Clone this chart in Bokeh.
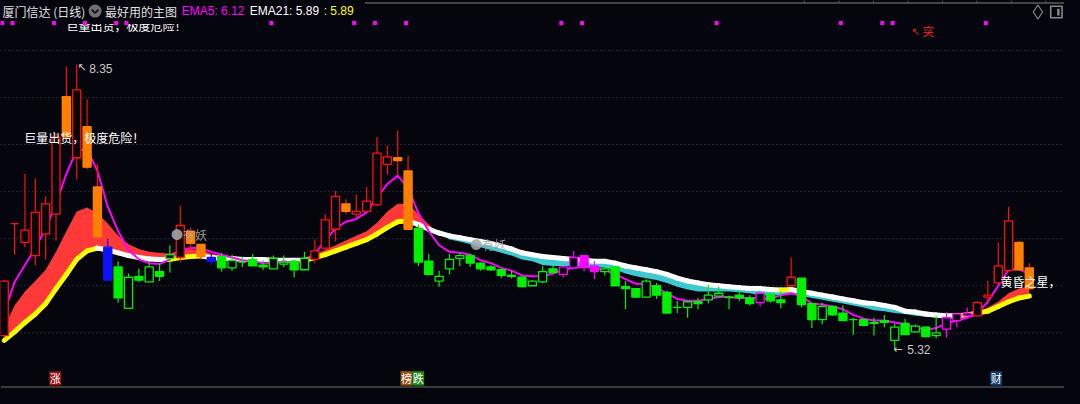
import numpy as np
from bokeh.plotting import figure
from bokeh.models import Range1d
from bokeh.core.properties import value
from bokeh.embed import file_html
from bokeh.resources import INLINE

# ---------------- data ----------------
open_ = [5.47, 6.66, 6.46, 6.32, 6.55, 6.76, 8.01, 7.36, 7.69, 7.05,
         6.41, 6.20, 5.76, 6.10, 6.04, 6.15, 6.29, 6.30, 6.58, 6.44,
         6.30, 6.31, 6.19, 6.25, 6.28, 6.22, 6.18, 6.23, 6.26, 6.17,
         6.28, 6.40, 6.60, 6.87, 6.76, 6.79, 6.86, 7.29, 7.36, 7.22,
         6.61, 6.26, 6.05, 6.18, 6.29, 6.32, 6.24, 6.20, 6.17, 6.10,
         6.09, 6.00, 6.04, 6.18, 6.12, 6.19, 6.32, 6.21, 6.15, 6.20,
         5.99, 5.97, 5.88, 6.00, 5.93, 5.77, 5.77, 5.83, 5.85, 5.89,
         5.88, 5.90, 5.87, 5.82, 5.91, 5.85, 6.00, 6.08, 5.81, 5.64,
         5.78, 5.71, 5.64, 5.64, 5.61, 5.63, 5.42, 5.60, 5.51, 5.56,
         5.47, 5.54, 5.63, 5.68, 5.68, 5.88, 6.03, 6.16, 6.46, 6.19]
high = [6.06, 6.67, 7.19, 7.14, 6.95, 7.62, 8.33, 8.35, 7.98, 7.29,
        6.50, 6.26, 6.13, 6.18, 6.24, 6.24, 6.43, 6.85, 6.62, 6.44,
        6.34, 6.35, 6.33, 6.31, 6.34, 6.27, 6.32, 6.32, 6.28, 6.36,
        6.49, 6.76, 7.01, 6.92, 6.97, 7.05, 7.58, 7.49, 7.65, 7.38,
        6.65, 6.34, 6.16, 6.34, 6.35, 6.34, 6.25, 6.22, 6.18, 6.16,
        6.10, 6.06, 6.21, 6.21, 6.21, 6.37, 6.33, 6.26, 6.21, 6.21,
        6.05, 5.97, 6.07, 6.03, 5.95, 5.84, 5.84, 5.87, 6.01, 5.99,
        5.895, 5.95, 5.90, 5.92, 5.91, 5.94, 6.30, 6.08, 5.82, 5.82,
        5.78, 5.79, 5.66, 5.65, 5.66, 5.69, 5.60, 5.65, 5.59, 5.57,
        5.68, 5.72, 5.70, 5.77, 5.84, 6.05, 6.46, 6.84, 6.48, 6.24]
low = [5.45, 6.33, 6.41, 6.22, 6.28, 6.48, 7.55, 7.13, 7.24, 6.52,
       6.05, 5.82, 5.76, 6.04, 6.04, 6.05, 6.14, 6.25, 6.38, 6.28,
       6.22, 6.15, 6.16, 6.20, 6.21, 6.17, 6.18, 6.20, 6.09, 6.17,
       6.24, 6.38, 6.47, 6.76, 6.72, 6.78, 6.85, 7.18, 7.18, 6.60,
       6.21, 6.11, 5.99, 6.12, 6.21, 6.20, 6.16, 6.16, 6.08, 6.08,
       5.98, 6.00, 6.03, 6.13, 6.09, 6.18, 6.15, 6.07, 6.11, 6.00,
       5.75, 5.87, 5.88, 5.86, 5.71, 5.71, 5.66, 5.75, 5.81, 5.87,
       5.75, 5.84, 5.79, 5.78, 5.82, 5.76, 5.99, 5.77, 5.55, 5.59,
       5.68, 5.63, 5.48, 5.57, 5.47, 5.56, 5.32, 5.48, 5.50, 5.46,
       5.44, 5.45, 5.56, 5.68, 5.68, 5.82, 6.02, 6.15, 6.16, 5.96]
close = [6.05, 6.66, 6.59, 6.78, 6.87, 7.58, 7.58, 8.08, 7.26, 6.52,
         6.06, 5.87, 6.09, 6.06, 6.20, 6.10, 6.33, 6.64, 6.45, 6.31,
         6.26, 6.19, 6.27, 6.25, 6.21, 6.20, 6.29, 6.25, 6.17, 6.29,
         6.37, 6.70, 6.95, 6.79, 6.79, 6.90, 7.41, 7.37, 7.33, 6.60,
         6.25, 6.12, 6.10, 6.28, 6.32, 6.24, 6.18, 6.17, 6.11, 6.11,
         5.99, 6.05, 6.15, 6.14, 6.20, 6.30, 6.21, 6.15, 6.18, 6.00,
         5.97, 5.88, 6.05, 5.90, 5.71, 5.77, 5.83, 5.81, 5.90, 5.92,
         5.875, 5.87, 5.81, 5.92, 5.84, 5.82, 6.09, 5.80, 5.64, 5.78,
         5.69, 5.63, 5.64, 5.58, 5.60, 5.61, 5.56, 5.48, 5.57, 5.46,
         5.50, 5.66, 5.70, 5.71, 5.82, 5.90, 6.21, 6.69, 6.17, 5.97]
# candle colouring used by the indicator: R red hollow, O orange, B blue,
# G green filled, g green hollow, M magenta filled, m magenta hollow
kind = ("R R R R R R O R O O "
        "B G g G g G g R O O "
        "B G g G G G g g G g "
        "R R R O R R R R O O "
        "G G g g g G G G G G "
        "G g g G m m M M g G "
        "G G g G G G g G g g "
        "G G G m G G R G G g "
        "G G G G G G g G g G "
        "g m m m R R R R O O").split()
ema5 = [5.71, 6.04, 6.22, 6.40, 6.61, 6.87, 7.19, 7.44, 7.45, 7.22,
        6.84, 6.58, 6.38, 6.28, 6.24, 6.23, 6.28, 6.38, 6.40, 6.40,
        6.36, 6.33, 6.30, 6.27, 6.26, 6.24, 6.24, 6.26, 6.24, 6.26,
        6.34, 6.48, 6.61, 6.68, 6.71, 6.78, 6.94, 7.08, 7.17, 7.04,
        6.77, 6.58, 6.43, 6.36, 6.35, 6.33, 6.27, 6.24, 6.19, 6.16,
        6.11, 6.10, 6.10, 6.13, 6.17, 6.19, 6.20, 6.19, 6.17, 6.12,
        6.07, 6.02, 6.02, 5.98, 5.92, 5.86, 5.84, 5.84, 5.86, 5.88,
        5.88, 5.87, 5.87, 5.87, 5.86, 5.90, 5.92, 5.89, 5.81, 5.80,
        5.78, 5.75, 5.69, 5.65, 5.63, 5.63, 5.61, 5.59, 5.56, 5.53,
        5.55, 5.60, 5.63, 5.66, 5.71, 5.83, 6.00, 6.17, 6.18, 6.12]
ema_band = [5.56, 5.79, 5.94, 6.05, 6.17, 6.36, 6.58, 6.79, 6.83, 6.77,
            6.66, 6.53, 6.44, 6.39, 6.36, 6.35, 6.34, 6.38, 6.39, 6.38,
            6.34, 6.32, 6.31, 6.30, 6.28, 6.27, 6.26, 6.26, 6.26, 6.28,
            6.34, 6.38, 6.43, 6.48, 6.53, 6.58, 6.67, 6.79, 6.87, 6.87,
            6.76, 6.65, 6.56, 6.49, 6.47, 6.44, 6.41, 6.38, 6.35, 6.32,
            6.28, 6.26, 6.22, 6.21, 6.21, 6.21, 6.20, 6.20, 6.19, 6.17,
            6.13, 6.10, 6.08, 6.06, 6.03, 5.99, 5.96, 5.94, 5.94, 5.94,
            5.94, 5.93, 5.92, 5.90, 5.90, 5.90, 5.91, 5.89, 5.87, 5.85,
            5.83, 5.81, 5.79, 5.77, 5.74, 5.73, 5.71, 5.70, 5.68, 5.67,
            5.66, 5.65, 5.66, 5.70, 5.72, 5.77, 5.83, 5.92, 5.97, 5.99]
ema21 = [5.42, 5.51, 5.61, 5.70, 5.81, 5.97, 6.12, 6.28, 6.37, 6.40,
         6.38, 6.35, 6.32, 6.30, 6.285, 6.28, 6.28, 6.30, 6.31, 6.315,
         6.30, 6.29, 6.29, 6.28, 6.28, 6.28, 6.27, 6.27, 6.27, 6.27,
         6.30, 6.33, 6.37, 6.41, 6.45, 6.49, 6.55, 6.62, 6.68, 6.69,
         6.65, 6.60, 6.56, 6.53, 6.51, 6.49, 6.47, 6.45, 6.42, 6.39,
         6.35, 6.33, 6.31, 6.30, 6.29, 6.28, 6.27, 6.26, 6.26, 6.24,
         6.21, 6.19, 6.17, 6.15, 6.12, 6.08, 6.05, 6.03, 6.01, 6.00,
         5.99, 5.98, 5.97, 5.97, 5.96, 5.955, 5.96, 5.94, 5.92, 5.90,
         5.88, 5.86, 5.84, 5.82, 5.81, 5.79, 5.77, 5.73, 5.72, 5.70,
         5.69, 5.68, 5.68, 5.69, 5.71, 5.73, 5.78, 5.83, 5.87, 5.89]
signal_idx = [0, 1, 5, 8, 11, 12, 26, 34, 36, 39, 54, 56, 69, 81, 85, 86, 95]
grid_prices = [5.5, 6.0, 6.5, 7.0, 7.5, 8.0, 8.5]
stock_title = "厦门信达 (日线)"
indicator_title = "最好用的主图"
warn_text = "巨量出货，极度危险！"
evening_text = "黄昏之星，"
demon_text = "●有妖"
demon_pos = [(16.1, 6.54), (45.0, 6.44)]
bottom_tags = [("涨", 4.92, "#9a0d0d"), ("榜", 38.84, "#9a5214"),
               ("跌", 39.98, "#1c8a1c"), ("财", 95.8, "#0d3c6e")]

# ---------------- layout helpers ----------------
BG = "#05050e"
CJK = "Noto Sans CJK SC"
LAT = "Liberation Sans"
W, H = 1064, 388


def fx(px):  # reference pixel column -> candle index
    return (px - 3.8) / 10.51


def fy(py):  # reference pixel row -> price
    return 5.5 + (346.0 - py) / 98.0


X0, X1 = fx(0), fx(1080)
Y0, Y1 = fy(404), fy(0)

p = figure(width=W, height=H, x_range=Range1d(X0, X1), y_range=Range1d(Y0, Y1),
           output_backend="svg", toolbar_location=None, min_border=0,
           background_fill_color=BG, border_fill_color=BG, outline_line_color=None)
p.xaxis.visible = False
p.yaxis.visible = False
p.xgrid.visible = False
p.ygrid.visible = False

# dotted price grid
p.segment(x0=[X0] * len(grid_prices), x1=[X1] * len(grid_prices), y0=grid_prices, y1=grid_prices,
          line_color="#4b4b55", line_width=1, line_dash="1 3")

xs = np.arange(len(close))
a = np.array(ema_band)
b = np.array(ema21)

# band between the two averages
p.varea(x=xs, y1=b, y2=np.maximum(a, b), fill_color="#ff3838")
p.varea(x=xs, y1=np.minimum(a, b), y2=b, fill_color="#3ec8d0")

# EMA21 thick line, yellow while rising, white while falling
seg_col = ["#ffff00" if b[i] > b[i - 1] else "#ffffff" for i in range(1, len(b))]
p.segment(x0=xs[:-1], x1=xs[1:], y0=b[:-1], y1=b[1:], line_color=seg_col,
          line_width=5, line_cap="round")

# EMA5
p.line(xs, ema5, line_color="#ff00ff", line_width=2)

# candles
col = {"R": "#ff1010", "O": "#ff8000", "B": "#1010ff", "G": "#00f000", "g": "#00f000",
       "M": "#ff00ff", "m": "#ff00ff"}
wick_col = {"R": "#ff1010", "O": "#ff1010", "B": "#1010ff", "G": "#00f000", "g": "#00f000",
            "M": "#ff00ff", "m": "#ff00ff"}
hollow = {"R", "g", "m"}
o = np.array(open_)
c = np.array(close)
hi = np.array(high)
lo = np.array(low)
top = np.maximum(o, c)
bot = np.minimum(o, c)
wc = [wick_col[k] for k in kind]
p.segment(x0=xs, x1=xs, y0=top, y1=hi, line_color=wc, line_width=1.2)
p.segment(x0=xs, x1=xs, y0=lo, y1=bot, line_color=wc, line_width=1.2)
fills = [BG if k in hollow else col[k] for k in kind]
lines = [col[k] for k in kind]
p.quad(left=xs - 0.39, right=xs + 0.39, top=top, bottom=bot, fill_color=fills,
       line_color=lines, line_width=1.3)


# annotations on the chart
def txt(x, y, s, color, size="12px", font=CJK, align="left", alpha=1.0):
    p.text(x=[x], y=[y], text=[s], text_color=color, text_font=value(font),
           text_font_size=size, text_align=align, text_baseline="middle", text_alpha=alpha)


txt(fx(24), fy(143), warn_text, "#ffffff")
for xi, yi in demon_pos:
    txt(xi, yi, demon_text, "#aaaaaa", alpha=0.9)
txt(fx(1015), fy(293), evening_text, "#ffffff")

imax = int(np.argmax(hi))
imin = int(np.argmin(lo))
txt(imax + 0.05, hi[imax] - 0.03, "↖", "#c8c8c8", size="11px", font="DejaVu Sans")
txt(imax + 1.2, hi[imax] - 0.04, f"{hi[imax]:.2f}", "#c8c8c8", font=LAT)
txt(imin - 0.15, lo[imin], "←", "#c8c8c8", size="11px", font="DejaVu Sans")
txt(imin + 1.2, lo[imin], f"{lo[imin]:.2f}", "#c8c8c8", font=LAT)

txt(fx(925), fy(32), "↖", "#ff2020", size="10px", font="DejaVu Sans")
txt(fx(936), fy(32), "突", "#ff2020", size="11px")

# second warning text clipped by the header strip
txt(fx(67), fy(26.5), warn_text, "#ffffff")
p.quad(left=[X0], right=[X1], top=[Y1], bottom=[fy(24.5)], fill_color=BG, line_color=None)

# signal dots along the top
p.scatter(x=[i - 0.2 for i in signal_idx], y=[fy(23.5)] * len(signal_idx), marker="square",
          size=4, fill_color="#ff00ff", line_color=None)

# header
txt(fx(2), fy(11), stock_title, "#e0e0e0")
p.scatter(x=[fx(96)], y=[fy(11)], marker="circle", size=13, fill_color="#707070", line_color=None)
p.line(x=[fx(92.5), fx(96), fx(99.5)], y=[fy(9.5), fy(13), fy(9.5)], line_color="#15151a", line_width=1.8)
txt(fx(106), fy(11), indicator_title, "#e0e0e0")
txt(fx(184), fy(11), f"EMA5: {ema5[-1]:.2f}", "#ff00ff", font=LAT)
txt(fx(253), fy(11), f"EMA21: {ema21[-1]:.2f}", "#ffffff", font=LAT)
txt(fx(328), fy(11), f": {ema21[-1]:.2f}", "#ffff00", font=LAT)

# top ruler and window icons
p.segment(x0=[fx(370)], x1=[X1], y0=[fy(2.5)], y1=[fy(2.5)], line_color="#5a5a5a", line_width=1.5)
ticks = [816, 851, 886, 921, 956, 991, 1026, 1061]
p.segment(x0=[fx(t) for t in ticks], x1=[fx(t) for t in ticks], y0=[fy(0)] * len(ticks),
          y1=[fy(2.5)] * len(ticks), line_color="#5a5a5a", line_width=1)
p.scatter(x=[fx(1053)], y=[fy(12)], marker="diamond", size=14, fill_color=None,
          line_color="#8a8a8a", line_width=1.2)
p.quad(left=[fx(1066)], right=[fx(1077.5)], top=[fy(6)], bottom=[fy(18)], fill_color=None,
       line_color="#8a8a8a", line_width=1.6)
p.quad(left=[fx(1072.5)], right=[fx(1075)], top=[fy(8.5)], bottom=[fy(15.5)],
       fill_color="#8a8a8a", line_color=None)

# bottom tags and baseline
for ch, xi, bg in bottom_tags:
    p.quad(left=[xi - 0.57], right=[xi + 0.57], top=[fy(386)], bottom=[fy(401)],
           fill_color=bg, line_color=None)
    p.text(x=[xi], y=[fy(393.5)], text=[ch], text_color="#ffffff", text_font=value(CJK),
           text_font_size="11px", text_align="center", text_baseline="middle")
p.segment(x0=[X0], x1=[X1], y0=[fy(402.5)], y1=[fy(402.5)], line_color="#3a3a3a", line_width=2)

html = file_html(p, INLINE, title="厦门信达")
html = html.replace("</head>", "<style>html,body{background:#05050e;}</style></head>", 1)
open("out.html", "w").write(html)
